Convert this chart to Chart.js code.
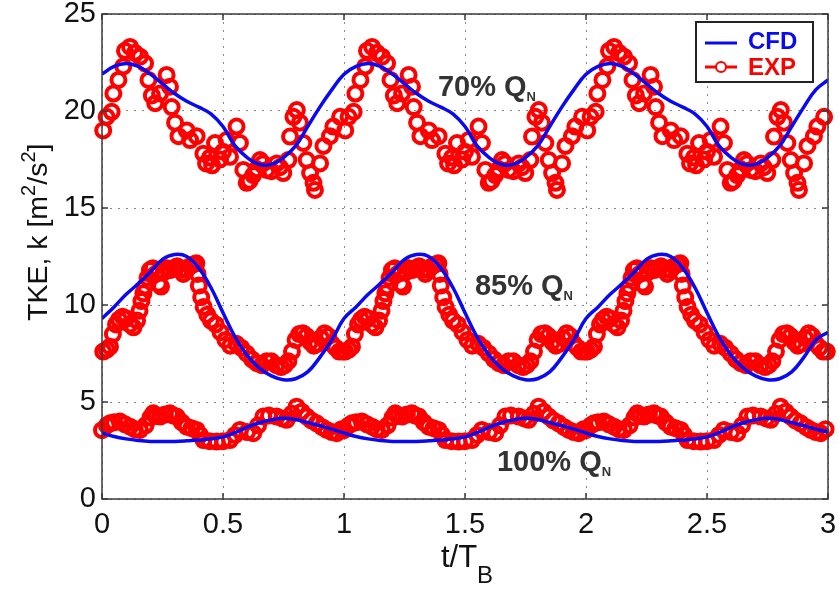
<!DOCTYPE html>
<html>
<head>
<meta charset="utf-8">
<script src="https://cdn.jsdelivr.net/npm/chart.js@4.4.1/dist/chart.umd.min.js"></script>
<style>
  body { margin: 0; background: #fff; }
  #wrap { width: 839px; height: 590px; }
</style>
</head>
<body>
<div id="wrap"><canvas id="tke-chart" width="839" height="590"></canvas></div>
<script>
// phase-averaged data over one blade period, plotted for 3 periods
const periods = [0, 1, 2];
const tMax = 3;
const xTicks = [0, 0.5, 1, 1.5, 2, 2.5, 3];
const yTicks = [0, 5, 10, 15, 20, 25];

// CFD curves (one period)
const cfdPhase = [0, 0.05, 0.1, 0.15, 0.2, 0.25, 0.3, 0.35, 0.4, 0.45,
                  0.5, 0.55, 0.6, 0.65, 0.7, 0.75, 0.8, 0.85, 0.9, 0.95];
const cfd70  = [21.9, 22.3, 22.45, 22.3, 21.9, 21.4, 20.9, 20.5, 20.2, 19.85,
                19.2, 18.2, 17.6, 17.25, 17.25, 17.6, 18.2, 19.2, 20.2, 21.1];
const cfd85  = [9.3, 9.9, 10.55, 11.1, 11.7, 12.35, 12.6, 12.5, 11.9, 10.9,
                9.6, 8.35, 7.4, 6.75, 6.35, 6.15, 6.2, 6.55, 7.3, 8.2];
const cfd100 = [3.4, 3.22, 3.1, 3.02, 2.97, 2.96, 2.97, 3.0, 3.04, 3.1,
                3.2, 3.42, 3.7, 3.93, 4.08, 4.16, 4.1, 3.94, 3.78, 3.6];
// CFD values at t/T_B = 3
const cfdEnd = [21.6, 8.6, 3.45];

// EXP data (one period)
const exp70Phase = [0.005, 0.019, 0.04, 0.047, 0.068, 0.088, 0.095, 0.116, 0.136, 0.157,
                    0.178, 0.192, 0.206, 0.22, 0.24, 0.267, 0.281, 0.288, 0.302, 0.316,
                    0.35, 0.364, 0.391, 0.419, 0.43, 0.446, 0.455, 0.467, 0.488, 0.5,
                    0.515, 0.529, 0.556, 0.57, 0.584, 0.598, 0.61, 0.625, 0.64, 0.653,
                    0.665, 0.68, 0.7, 0.722, 0.735, 0.749, 0.77, 0.777, 0.791, 0.805,
                    0.818, 0.832, 0.846, 0.86, 0.874, 0.88, 0.901, 0.915, 0.942, 0.956, 0.984];
const exp70 = [19.0, 19.7, 19.96, 20.9, 21.6, 22.3, 23.1, 23.3, 23.0, 22.8,
               22.46, 21.6, 20.8, 20.4, 20.9, 21.86, 21.25, 20.2, 19.4, 18.7,
               19.0, 18.5, 18.7, 17.8, 17.3, 17.6, 17.2, 18.35, 17.5, 17.9,
               18.5, 17.64, 19.2, 18.35, 16.96, 16.3, 16.4, 16.7, 17.0, 17.47,
               17.3, 16.96, 16.9, 17.3, 17.1, 16.8, 17.47, 18.68, 19.7, 20.05,
               19.4, 18.35, 17.47, 16.8, 16.3, 15.93, 17.3, 18.2, 18.7, 19.2, 19.7];

const exp85Phase = [0.005, 0.02, 0.033, 0.045, 0.058, 0.07, 0.085, 0.1, 0.115, 0.13,
                    0.145, 0.155, 0.163, 0.171, 0.178, 0.188, 0.198, 0.21, 0.222, 0.234,
                    0.244, 0.256, 0.268, 0.282, 0.296, 0.31, 0.323, 0.336, 0.35, 0.364,
                    0.378, 0.39, 0.395, 0.4, 0.41, 0.42, 0.435, 0.45, 0.47, 0.49,
                    0.51, 0.53, 0.555, 0.575, 0.598, 0.62, 0.64, 0.66, 0.68, 0.7,
                    0.72, 0.74, 0.755, 0.77, 0.785, 0.8, 0.815, 0.83, 0.845, 0.86,
                    0.875, 0.89, 0.905, 0.92, 0.935, 0.95, 0.965, 0.98, 0.995];
const exp85 = [7.6, 7.7, 7.85, 8.5, 9.0, 9.25, 9.4, 9.3, 9.0, 8.85,
               9.2, 9.7, 10.2, 10.6, 10.95, 11.4, 11.8, 11.9, 11.6, 11.1,
               10.95, 11.7, 11.9, 11.8, 11.9, 12.0, 11.8, 11.6, 11.8, 12.0,
               12.1, 12.15, 11.6, 11.0, 10.4, 9.9, 9.5, 9.2, 9.0, 8.6,
               8.2, 7.9, 8.0, 7.8, 7.5, 7.2, 7.0, 6.9, 7.1, 7.1,
               6.9, 6.8, 6.9, 7.1, 7.6, 8.2, 8.5, 8.55, 8.4, 8.1,
               7.9, 8.0, 8.3, 8.55, 8.4, 8.0, 7.8, 7.6, 7.6];

const exp100Phase = [0.0, 0.02, 0.033, 0.05, 0.074, 0.095, 0.116, 0.135, 0.157, 0.18,
                     0.2, 0.212, 0.225, 0.24, 0.26, 0.281, 0.295, 0.309, 0.33, 0.35,
                     0.37, 0.391, 0.405, 0.419, 0.445, 0.474, 0.5, 0.529, 0.55, 0.57,
                     0.6, 0.625, 0.645, 0.667, 0.69, 0.722, 0.745, 0.763, 0.785, 0.804,
                     0.825, 0.846, 0.865, 0.887, 0.91, 0.929, 0.95, 0.97, 0.99];
const exp100 = [3.55, 3.8, 3.9, 3.95, 4.0, 3.85, 3.73, 3.6, 3.56, 3.8,
                4.2, 4.42, 4.3, 4.25, 4.35, 4.42, 4.3, 4.25, 3.95, 3.73,
                3.65, 3.56, 3.3, 3.04, 2.98, 2.96, 2.98, 3.04, 3.3, 3.56,
                3.45, 3.39, 3.8, 4.25, 4.3, 4.25, 4.15, 4.08, 4.4, 4.76,
                4.5, 4.25, 4.05, 3.9, 3.7, 3.56, 3.45, 3.39, 3.6];

// text labels placed in data units
const flowLabels = [
    { text: '70% Q', sub: 'N', x: 1.388, y: 20.77 },
    { text: '85% Q', sub: 'N', x: 1.541, y: 10.52 },
    { text: '100% Q', sub: 'N', x: 1.632, y: 1.44 }
];

const BLUE = '#0a0af2';
const RED = '#ff0000';
const FONT = '"Liberation Sans", Arial, Helvetica, sans-serif';

// 1周期分を3周期に並べる
function repeatPeriods(phase, values, endValue) {
    const pts = [];
    periods.forEach(p => {
        phase.forEach((t, i) => pts.push({ x: p + t, y: values[i] }));
    });
    if (endValue !== undefined) pts.push({ x: tMax, y: endValue });
    return pts;
}

function cfdSet(values, endValue) {
    return {
        data: repeatPeriods(cfdPhase, values, endValue),
        showLine: true,
        borderColor: BLUE,
        borderWidth: 3.5,
        pointRadius: 0,
        tension: 0.4,
        fill: false
    };
}

function expSet(phase, values) {
    return {
        data: repeatPeriods(phase, values),
        showLine: false,
        borderColor: RED,
        backgroundColor: 'rgba(0,0,0,0)',
        pointBorderWidth: 4,
        pointRadius: 7,
        pointHoverRadius: 7,
        clip: false
    };
}

// draw text pieces with sub/superscripts
function richText(ctx, parts, x, y) {
    let cx = x;
    parts.forEach(p => {
        ctx.font = p.font;
        ctx.fillText(p.text, cx, y + (p.dy || 0));
        cx += ctx.measureText(p.text).width;
    });
    return cx - x;
}
function richWidth(ctx, parts) {
    let w = 0;
    parts.forEach(p => { ctx.font = p.font; w += ctx.measureText(p.text).width; });
    return w;
}

const decorations = {
    id: 'decorations',
    afterDatasetsDraw(chart) {
        const { ctx, chartArea: a, scales: { x, y } } = chart;
        ctx.save();

        // axes box + inward ticks
        ctx.strokeStyle = '#3a3a3a';
        ctx.lineWidth = 1.5;
        ctx.strokeRect(a.left, a.top, a.right - a.left, a.bottom - a.top);
        ctx.beginPath();
        xTicks.forEach(v => {
            const px = x.getPixelForValue(v);
            ctx.moveTo(px, a.bottom); ctx.lineTo(px, a.bottom - 6);
            ctx.moveTo(px, a.top); ctx.lineTo(px, a.top + 6);
        });
        yTicks.forEach(v => {
            const py = y.getPixelForValue(v);
            ctx.moveTo(a.left, py); ctx.lineTo(a.left + 6, py);
            ctx.moveTo(a.right, py); ctx.lineTo(a.right - 6, py);
        });
        ctx.stroke();

        // flow rate labels
        ctx.fillStyle = '#333';
        ctx.textBaseline = 'alphabetic';
        ctx.textAlign = 'left';
        flowLabels.forEach(l => {
            richText(ctx, [
                { text: l.text, font: 'bold 29px ' + FONT },
                { text: l.sub, font: 'bold 13px ' + FONT, dy: 5 }
            ], x.getPixelForValue(l.x), y.getPixelForValue(l.y));
        });

        // x title: t/T_B
        ctx.fillStyle = '#111';
        const xParts = [
            { text: 't/T', font: '31px ' + FONT },
            { text: 'B', font: '24px ' + FONT, dy: 16 }
        ];
        const xw = richWidth(ctx, xParts);
        richText(ctx, xParts, (a.left + a.right) / 2 - xw / 2 + 2, 567);

        // y title: TKE, k [m^2/s^2]
        const yParts = [
            { text: 'TKE, k [m', font: '28.5px ' + FONT },
            { text: '2', font: '20px ' + FONT, dy: -12 },
            { text: '/s', font: '28.5px ' + FONT },
            { text: '2', font: '20px ' + FONT, dy: -12 },
            { text: ']', font: '28.5px ' + FONT }
        ];
        ctx.save();
        ctx.translate(47, 321);
        ctx.rotate(-Math.PI / 2);
        richText(ctx, yParts, 0, 0);
        ctx.restore();

        // legend
        const lx = 696, ly = 22, lw = 117, lh = 60;
        ctx.fillStyle = '#fff';
        ctx.fillRect(lx, ly, lw, lh);
        ctx.strokeStyle = '#222';
        ctx.lineWidth = 2;
        ctx.strokeRect(lx, ly, lw, lh);

        ctx.lineWidth = 3;
        ctx.strokeStyle = BLUE;
        ctx.beginPath(); ctx.moveTo(705, 43); ctx.lineTo(737, 43); ctx.stroke();
        ctx.strokeStyle = RED;
        ctx.beginPath(); ctx.moveTo(705, 67); ctx.lineTo(737, 67); ctx.stroke();
        ctx.fillStyle = '#fff';
        ctx.lineWidth = 2;
        ctx.beginPath(); ctx.arc(721, 67, 5, 0, Math.PI * 2); ctx.fill(); ctx.stroke();

        ctx.font = 'bold 24px ' + FONT;
        ctx.textBaseline = 'middle';
        ctx.fillStyle = BLUE;
        ctx.fillText('CFD', 748, 42);
        ctx.fillStyle = RED;
        ctx.fillText('EXP', 748, 68);

        ctx.restore();
    }
};

const ctx = document.getElementById('tke-chart').getContext('2d');
new Chart(ctx, {
    type: 'scatter',
    data: {
        datasets: [
            cfdSet(cfd70, cfdEnd[0]),
            cfdSet(cfd85, cfdEnd[1]),
            cfdSet(cfd100, cfdEnd[2]),
            expSet(exp70Phase, exp70),
            expSet(exp85Phase, exp85),
            expSet(exp100Phase, exp100)
        ]
    },
    options: {
        responsive: false,
        animation: false,
        devicePixelRatio: 1,
        layout: { padding: { left: 0, right: 11, top: 14, bottom: 0 } },
        plugins: {
            legend: { display: false },
            tooltip: { enabled: false }
        },
        scales: {
            x: {
                type: 'linear',
                min: 0,
                max: tMax,
                afterBuildTicks: s => { s.ticks = xTicks.map(v => ({ value: v })); },
                afterFit: s => { s.height = 91; s.paddingLeft = 0; s.paddingRight = 0; },
                ticks: {
                    font: { size: 29, family: FONT },
                    color: '#111',
                    padding: 9,
                    maxRotation: 0,
                    callback: v => String(v)
                },
                grid: { color: '#8a8a8a', lineWidth: 1, drawTicks: false },
                border: { display: false, dash: [2, 6] }
            },
            y: {
                min: 0,
                max: 25,
                afterBuildTicks: s => { s.ticks = yTicks.map(v => ({ value: v })); },
                afterFit: s => { s.width = 102; s.paddingTop = 0; s.paddingBottom = 0; },
                ticks: {
                    font: { size: 29, family: FONT },
                    color: '#111',
                    padding: 6,
                    callback: v => String(v)
                },
                grid: { color: '#8a8a8a', lineWidth: 1, drawTicks: false },
                border: { display: false, dash: [2, 6] }
            }
        }
    },
    plugins: [decorations]
});
</script>
</body>
</html>
